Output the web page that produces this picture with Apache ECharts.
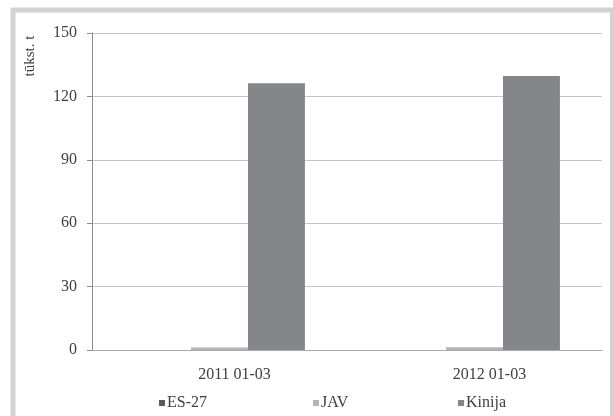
<!DOCTYPE html>
<html>
<head>
<meta charset="utf-8">
<script src="https://cdn.jsdelivr.net/npm/echarts@6/dist/echarts.min.js"></script>
<style>html,body{margin:0;padding:0;background:#fff}#c{width:613px;height:416px}</style>
</head>
<body>
<div id="c"></div>
<script>
const categories = ['2011 01-03', '2012 01-03'];
const seriesNames = ['ES-27', 'JAV', 'Kinija'];
const es27 = [0, 0];
const jav = [1.2, 1.3];
const kinija = [126.2, 129.6];
const yTicks = [0, 30, 60, 90, 120, 150];
const axisTitle = 'tūkst. t';

const font = 'Liberation Serif';
const txt = '#404040';
const colors = ['#5a5a5a', '#b4b4b4', '#858689'];
const legendLefts = [154, 308, 453];
const chart = echarts.init(document.getElementById('c'), null, {renderer: 'canvas'});
chart.setOption({
  animation: false,
  color: colors,
  textStyle: {fontFamily: font},
  grid: {left: 92, right: 11, top: 33, bottom: 66, containLabel: false},
  legend: seriesNames.map((n, i) => ({
    data: [n],
    left: legendLefts[i], top: 390,
    itemWidth: 6, itemHeight: 6,
    icon: 'rect',
    textStyle: {fontFamily: font, fontSize: 16, color: txt, padding: [0, 0, 0, -3]}
  })),
  xAxis: {
    type: 'category',
    data: categories,
    axisLine: {lineStyle: {color: '#a8a8a8', width: 1}},
    axisTick: {show: false},
    axisLabel: {fontFamily: font, fontSize: 16, color: txt, margin: 17, padding: [0, 0, 0, 30]}
  },
  yAxis: {
    type: 'value',
    min: yTicks[0], max: yTicks[yTicks.length - 1], interval: 30,
    axisLine: {show: true, lineStyle: {color: '#8c8c8c'}},
    axisTick: {show: true, length: 5, lineStyle: {color: '#8c8c8c'}},
    axisLabel: {fontFamily: font, fontSize: 16, color: txt, margin: 15},
    splitLine: {lineStyle: {color: '#c4c4c4'}}
  },
  series: [
    {name: seriesNames[0], type: 'bar', data: es27, barGap: '0%', barCategoryGap: '33%'},
    {name: seriesNames[1], type: 'bar', data: jav, barGap: '0%', barCategoryGap: '33%'},
    {name: seriesNames[2], type: 'bar', data: kinija, barGap: '0%', barCategoryGap: '33%'}
  ],
  graphic: [
    {type: 'rect', silent: true, z: 100,
     shape: {x: 13, y: 10, width: 599.5, height: 430},
     style: {fill: 'none', stroke: '#d2d2d2', lineWidth: 5}},
    {type: 'text', x: 30, y: 56, rotation: Math.PI / 2,
     style: {text: axisTitle, font: '15px "Liberation Serif"', fill: txt, align: 'center', verticalAlign: 'middle'}}
  ]
});
</script>
</body>
</html>
